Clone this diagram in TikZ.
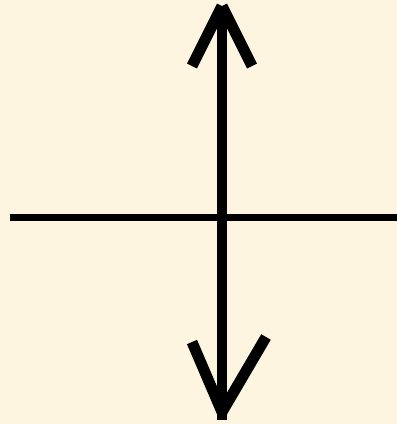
\documentclass[tikz,border=0pt]{standalone}
\usepackage{tikz}
\definecolor{paper}{RGB}{253,245,224}

\begin{document}
\begin{tikzpicture}[
    x=1bp, y=-1bp,
    axis/.style={line width=6.5bp},
    lens/.style={line width=10.5bp},
    head/.style={line width=11bp, line cap=butt}
]
% Background, in pixels of the sheet (y runs downwards).
\fill[paper] (0,0) rectangle (397,424);
\useasboundingbox (0,0) rectangle (397,424);

\coordinate (left)   at (10,217.5);
\coordinate (right)  at (397,217.5);
\coordinate (top)    at (222,6);
\coordinate (bottom) at (222,420);

\draw[axis] (left) -- (right);
\draw[lens] (top) -- (bottom);

% Open heads, each arm drawn on its own.
\coordinate (tip1) at (222,6);
\coordinate (tip2) at (222,412);
\draw[head] (192,66) -- (tip1);
\draw[head] (252,66) -- (tip1);
\draw[head] (192,342) -- (tip2);
\draw[head] (266,337) -- (tip2);
\end{tikzpicture}
\end{document}
